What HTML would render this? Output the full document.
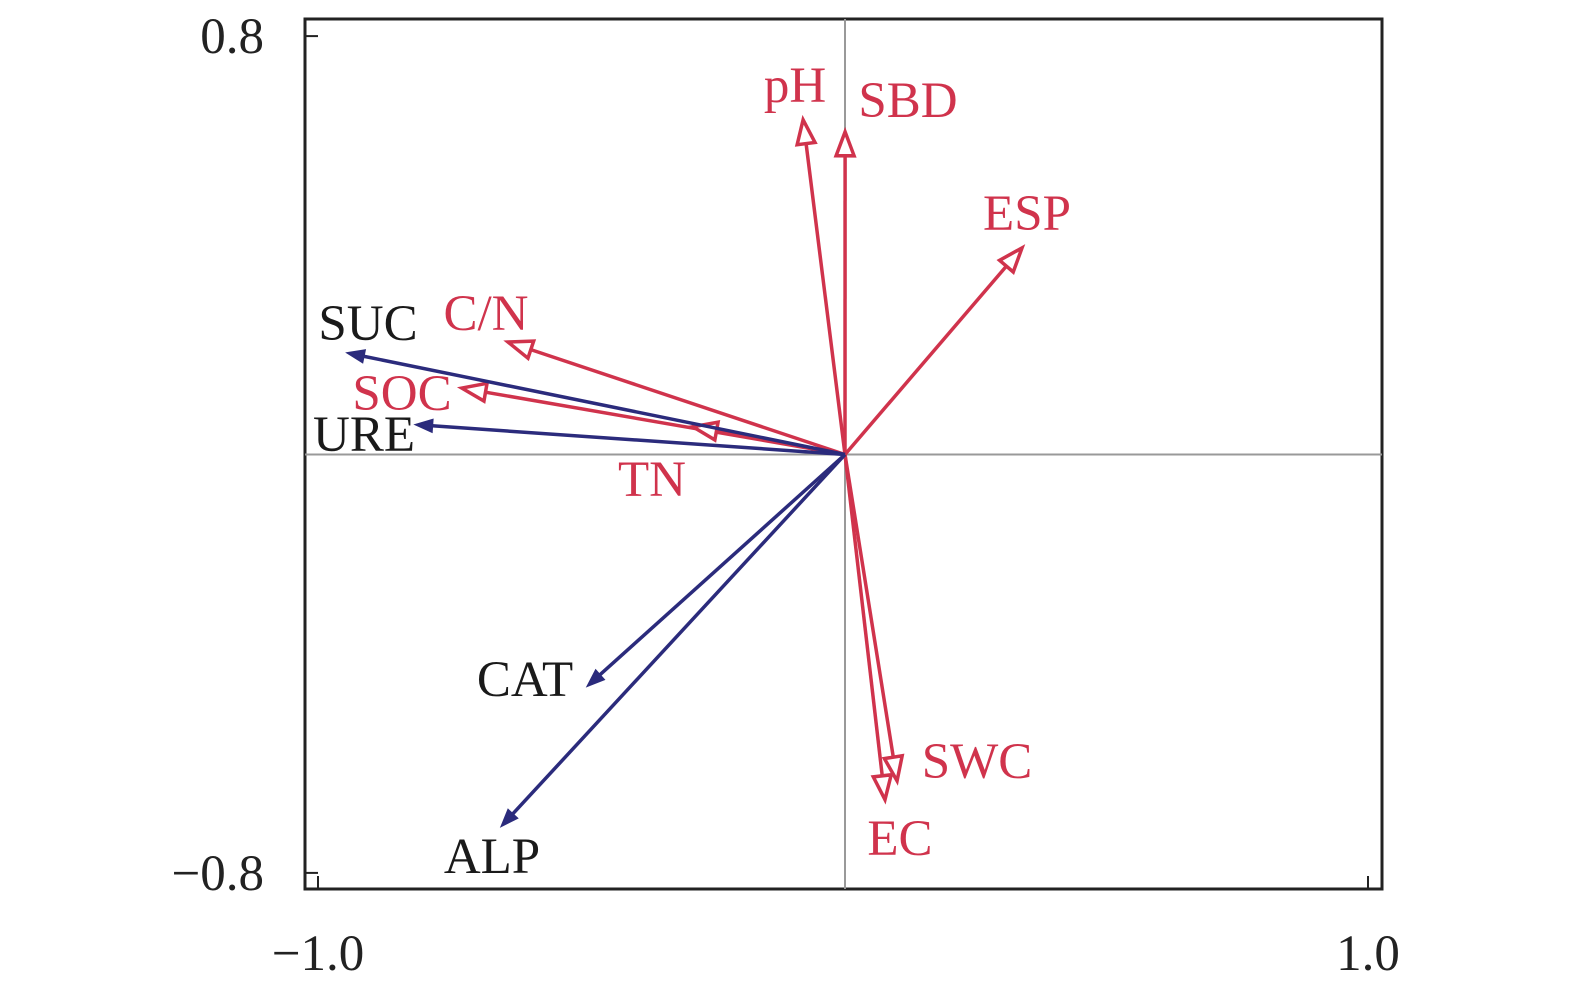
<!DOCTYPE html>
<html><head><meta charset="utf-8"><style>
html,body{margin:0;padding:0;background:#fff;}
svg{display:block;}
text{font-family:"Liberation Serif",serif;font-size:51px;}
</style></head><body>
<svg id="chart" width="1575" height="994">
<rect x="305" y="19" width="1077" height="870" fill="none" stroke="#222" stroke-width="3"/>
<g id="axes"></g>
<g id="arrows"></g>
</svg>
<script>
const names = ["pH","SBD","ESP","C/N","SOC","TN","SWC","EC","SUC","URE","CAT","ALP"];
const xs = [-0.076,0.004,0.341,-0.638,-0.726,-0.286,0.103,0.080,-0.943,-0.813,-0.486,-0.650];
const ys = [0.640,0.617,0.395,0.215,0.127,0.053,-0.624,-0.660,0.194,0.057,-0.442,-0.710];
const groups = ["env","env","env","env","env","env","env","env","enz","enz","enz","enz"];
const labelPos = [[795,102],[908,117],[1027,230],[486,330],[402,410],[652,496],[977,778],[900,855],[368,340],[364,451],[525,696],[492,873]];
const xTicks = [-1.0,1.0];
const yTicks = [0.8,-0.8];

const sx = v => 843 + v*525;
const sy = v => 454.5 - v*523;
const NS = "http://www.w3.org/2000/svg";
function mk(t, a, p){const e=document.createElementNS(NS,t);for(const k in a)e.setAttribute(k,a[k]);p.appendChild(e);return e;}
const ax = document.getElementById("axes");
let l = mk("line",{x1:sx(0)+2,x2:sx(0)+2,y1:19,y2:889,stroke:"#999","stroke-width":2},ax);


l = mk("line",{x1:305,x2:1382,y1:sy(0),y2:sy(0),stroke:"#999","stroke-width":2},ax);


xTicks.forEach(v=>{
  const t = mk("line",{x1:sx(v),x2:sx(v),y1:889,y2:876,stroke:"#222","stroke-width":2},ax);
  
  
  const tx = mk("text",{x:sx(v),y:970,"text-anchor":"middle",fill:"#222"},ax);
  tx.textContent = (v<0?"\u2212":"")+Math.abs(v).toFixed(1);
  
  
});
yTicks.forEach(v=>{
  const t = mk("line",{x1:305,x2:318,y1:sy(v),y2:sy(v),stroke:"#222","stroke-width":2},ax);
  
  
  const tx = mk("text",{x:264,y:sy(v)+17,"text-anchor":"end",fill:"#222"},ax);
  tx.textContent = (v<0?"\u2212":"")+Math.abs(v).toFixed(1);
  
  
});
const ar = document.getElementById("arrows");
const ox = sx(0)+2, oy = sy(0);
names.forEach((n,i)=>{
  const env = groups[i]==="env";
  const col = env ? "#d0334c" : "#2b2b7c";
  const tx = sx(xs[i]), ty = sy(ys[i]);
  const dx = tx-ox, dy = ty-oy, L = Math.hypot(dx,dy), ux = dx/L, uy = dy/L;
  const hl = env?24:16, hw = env?9:6;
  const bx = tx-ux*hl, by = ty-uy*hl;
  const g = mk("g",{},ar);
  
  
  mk("line",{x1:ox,y1:oy,x2:bx,y2:by,stroke:col,"stroke-width":3.5},g);
  const pts = `${tx},${ty} ${bx-uy*hw},${by+ux*hw} ${bx+uy*hw},${by-ux*hw}`;
  mk("polygon",{points:pts,fill:env?"#fff":col,stroke:col,"stroke-width":env?3.5:2,"stroke-linejoin":"miter"},g);
  const t = mk("text",{x:labelPos[i][0],y:labelPos[i][1],"text-anchor":"middle",fill:env?"#d0334c":"#1a1a1a"},ar);
  t.textContent = n;
  
  
});
</script>
</body></html>
